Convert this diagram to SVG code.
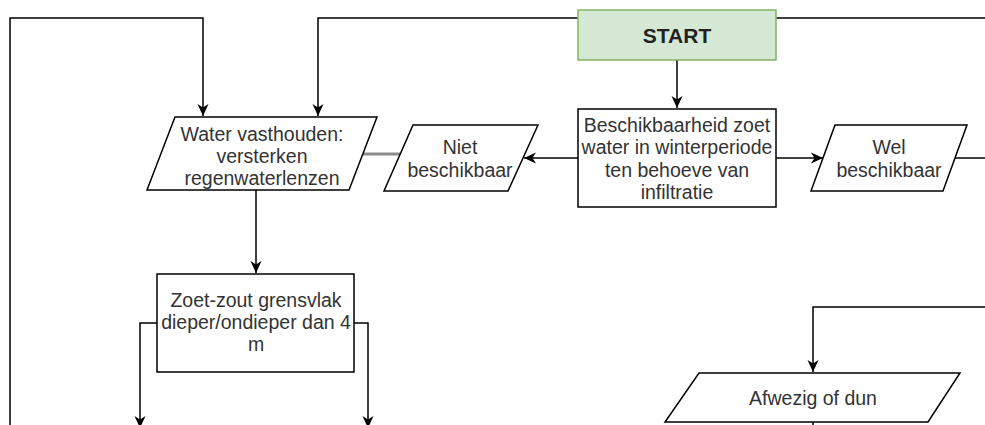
<svg xmlns="http://www.w3.org/2000/svg" width="985" height="425" viewBox="0 0 985 425">
<style>
.shape{fill:#ffffff;stroke:#000000;stroke-width:1.5}
.start{fill:#d5e8d4;stroke:#82b366;stroke-width:1.5}
.edge{fill:none;stroke:#000000;stroke-width:1.5}
.gray{fill:none;stroke:#8c8c8c;stroke-width:3}
text{font-family:"Liberation Sans",Arial,sans-serif;font-size:19.5px;fill:#333333;text-anchor:middle}
.bold{font-weight:bold;font-size:21px;fill:#222222}
</style>
<defs>
<marker id="arr" markerUnits="userSpaceOnUse" markerWidth="13" markerHeight="13" viewBox="0 0 13 13" refX="12" refY="6.5" orient="auto">
<path d="M0,1 L12,6.5 L0,12 L3.5,6.5 z" fill="#000000"/>
</marker>
</defs>
<rect width="985" height="425" fill="#ffffff"/>
<g id="connectors">
<path class="edge" d="M10,425 L10,18 L203,18 L203,116" marker-end="url(#arr)"/>
<path class="edge" d="M985,18 L318,18 L318,116" marker-end="url(#arr)"/>
<path class="edge" d="M677,60 L677,108" marker-end="url(#arr)"/>
<path class="edge" d="M776,158 L823,158" marker-end="url(#arr)"/>
<path class="edge" d="M955,158 L985,158"/>
<path class="edge" d="M578,158 L524,158" marker-end="url(#arr)"/>
<path class="gray" d="M363,154 L400,154"/>
<path class="edge" d="M256,190 L256,273" marker-end="url(#arr)"/>
<path class="edge" d="M157,323 L140,323 L140,428" marker-end="url(#arr)"/>
<path class="edge" d="M354,323 L368,323 L368,428" marker-end="url(#arr)"/>
<path class="edge" d="M985,307 L813,307 L813,372" marker-end="url(#arr)"/>
<path class="edge" d="M813,422 L813,426"/>
</g>
<g id="start">
<rect class="start" x="578" y="10" width="198" height="50"/>
<text class="bold" x="677" y="43">START</text>
</g>
<g id="beschikbaarheid">
<rect class="shape" x="578" y="109" width="198" height="98"/>
<text x="677" y="132">Beschikbaarheid zoet</text>
<text x="677" y="154">water in winterperiode</text>
<text x="677" y="176.5">ten behoeve van</text>
<text x="677" y="199">infiltratie</text>
</g>
<g id="wel-beschikbaar">
<polygon class="shape" points="835,125 967,125 943,191 811,191"/>
<text x="889" y="153.5">Wel</text>
<text x="889" y="176.5">beschikbaar</text>
</g>
<g id="niet-beschikbaar">
<polygon class="shape" points="413,125 538,125 508,191 384,191"/>
<text x="460" y="153.5">Niet</text>
<text x="460" y="176.5">beschikbaar</text>
</g>
<g id="water-vasthouden">
<polygon class="shape" points="175,117 377,117 349,190 147,190"/>
<text x="262" y="141">Water vasthouden:</text>
<text x="262" y="163">versterken</text>
<text x="262" y="185">regenwaterlenzen</text>
</g>
<g id="zoet-zout">
<rect class="shape" x="157" y="274" width="197" height="98"/>
<text x="256" y="307">Zoet-zout grensvlak</text>
<text x="256" y="328.5">dieper/ondieper dan 4</text>
<text x="256" y="351">m</text>
</g>
<g id="afwezig">
<polygon class="shape" points="699,373 960,373 928,422 665,422"/>
<text x="813" y="405">Afwezig of dun</text>
</g>
</svg>
